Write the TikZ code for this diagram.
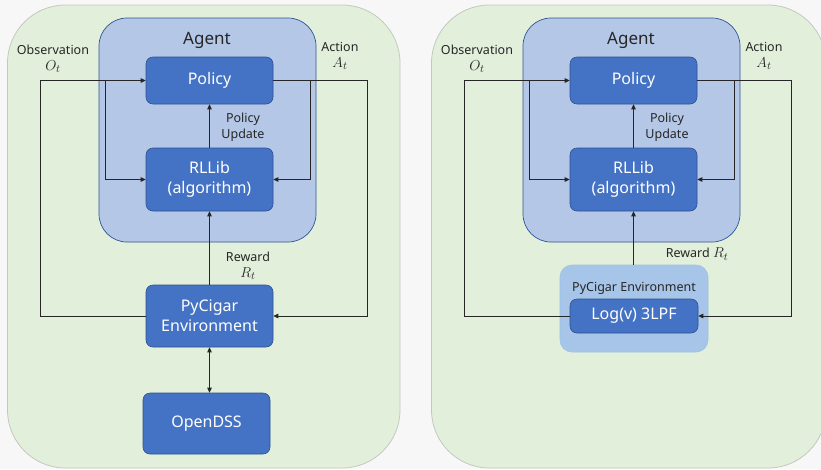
\documentclass[tikz,border=0pt]{standalone}
\usepackage{fontspec}
\setmainfont{Noto Sans}
\usetikzlibrary{arrows.meta,calc}
\definecolor{bgc}{HTML}{F7F7F7}
\definecolor{panelfill}{HTML}{E2EFDA}
\definecolor{panelline}{HTML}{C4C9C0}
\definecolor{agentfill}{HTML}{B4C7E7}
\definecolor{agentline}{HTML}{2F5597}
\definecolor{blkfill}{HTML}{4472C4}
\definecolor{blkline}{HTML}{2F528F}
\definecolor{envfill}{HTML}{A6C5E9}
\definecolor{envline}{HTML}{9DC3E6}
\definecolor{txt}{HTML}{262626}
\newcommand{\mvar}[1]{{\fontsize{15.5}{16}\selectfont$#1$}}
\tikzset{
  panel/.style={draw=panelline, fill=panelfill, line width=0.8pt, rounded corners=58pt},
  agentbox/.style={draw=agentline, fill=agentfill, line width=0.7pt, rounded corners=28pt},
  blk/.style={draw=blkline, fill=blkfill, line width=0.6pt, rounded corners=7pt, text=white,
    font=\fontsize{16}{20}\selectfont, align=center, inner sep=0pt, minimum width=127pt},
  envbox/.style={draw=envline, fill=envfill, line width=0.6pt, rounded corners=12pt,
    minimum width=148pt, minimum height=87pt, inner sep=0pt},
  lbl/.style={font=\fontsize{12.5}{16}\selectfont, text=txt, align=center, inner sep=0pt},
  conn/.style={line width=0.9pt, draw=black!85, -{Triangle[length=5pt,width=4.5pt]}},
  dconn/.style={line width=0.9pt, draw=black!85, {Triangle[length=5pt,width=4.5pt]}-{Triangle[length=5pt,width=4.5pt]}},
}
\begin{document}
\begin{tikzpicture}[x=1pt,y=-1pt]
\fill[bgc] (0,0) rectangle (821,469);
\useasboundingbox (0,0) rectangle (821,469);
\clip (0,0) rectangle (821,469);
% ---------- left panel ----------
\draw[panel] (7.5,5) rectangle (400,468);
\draw[agentbox] (99,18) rectangle (316,242);
\node[lbl, font=\fontsize{17}{20}\selectfont] (ag1) at (207,40) {Agent};
\node[blk, minimum height=47pt] (pol1) at (209.5,80.5) {Policy};
\node[blk, minimum height=63pt] (rl1) at (209.5,179.5) {RLLib\\(algorithm)};
\node[blk, minimum height=62pt] (env1) at (209.5,316) {PyCigar\\Environment};
\node[blk, minimum height=61pt] (dss1) at (206.5,423.5) {OpenDSS};
\coordinate (oL1) at (40,80);
\coordinate (oB1) at (105,80);
\coordinate (aR1) at (367,80);
\coordinate (aB1) at (310,80);
\draw[conn] (env1.west) -- (env1.west -| oL1) -- (pol1.west -| oL1) -- (pol1.west);
\draw[conn] (pol1.west -| oB1) |- (rl1.west);
\draw[conn] (pol1.east) -- (pol1.east -| aR1) -- (env1.east -| aR1) -- (env1.east);
\draw[conn] (pol1.east -| aB1) |- (rl1.east);
\draw[conn] (rl1.north) -- (pol1.south);
\draw[conn] (env1.north) -- (rl1.south);
\draw[dconn] (env1.south) -- (env1.south |- dss1.north);
\node[lbl] (obs1) at (53,59) {Observation\\\mvar{O_t}};
\node[lbl] (act1) at (340,56) {Action\\\mvar{A_t}};
\node[lbl] (upd1) at (243,127) {Policy\\Update};
\node[lbl] (rew1) at (248,266) {Reward\\\mvar{R_t}};
% ---------- right panel ----------
\draw[panel] (431.5,5) rectangle (826,468);
\draw[agentbox] (523,18) rectangle (740,242);
\node[lbl, font=\fontsize{17}{20}\selectfont] (ag2) at (631,40) {Agent};
\node[blk, minimum height=47pt] (pol2) at (633.5,80.5) {Policy};
\node[blk, minimum height=63pt] (rl2) at (633.5,179.5) {RLLib\\(algorithm)};
\node[envbox] (envo) at (634,308.5) {};
\node[lbl] (envl) at (634,288) {PyCigar Environment};
\node[blk, minimum height=34pt, minimum width=128pt] (lpf) at (634,316) {Log(v) 3LPF};
\coordinate (oL2) at (464,80);
\coordinate (oB2) at (529,80);
\coordinate (aR2) at (791,80);
\coordinate (aB2) at (734,80);
\draw[conn] (lpf.west) -- (lpf.west -| oL2) -- (pol2.west -| oL2) -- (pol2.west);
\draw[conn] (pol2.west -| oB2) |- (rl2.west);
\draw[conn] (pol2.east) -- (pol2.east -| aR2) -- (lpf.east -| aR2) -- (lpf.east);
\draw[conn] (pol2.east -| aB2) |- (rl2.east);
\draw[conn] (rl2.north) -- (pol2.south);
\draw[conn] (envo.north -| rl2.south) -- (rl2.south);
\node[lbl] (obs2) at (477,59) {Observation\\\mvar{O_t}};
\node[lbl] (act2) at (764,56) {Action\\\mvar{A_t}};
\node[lbl] (upd2) at (667,127) {Policy\\Update};
\node[lbl] (rew2) at (697,254) {Reward \mvar{R_t}};
\end{tikzpicture}
\end{document}
